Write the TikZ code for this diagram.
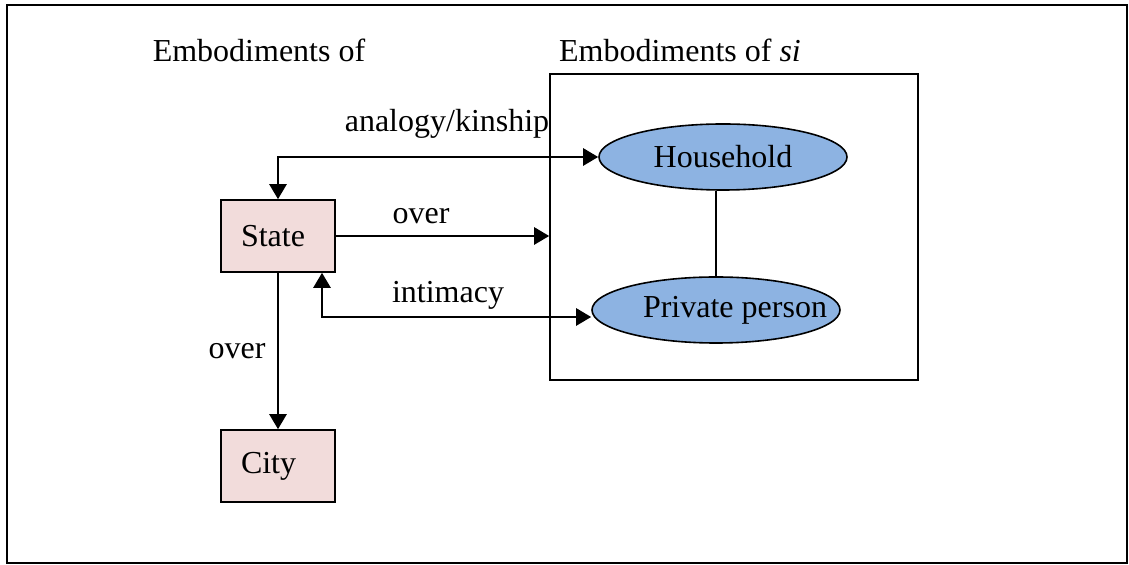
\documentclass[tikz,border=0pt]{standalone}
\usepackage{fontspec}
\setmainfont{Liberation Serif}
\usetikzlibrary{arrows.meta, calc, shapes.geometric}
\definecolor{statepink}{HTML}{F2DCDB}
\definecolor{siblue}{HTML}{8DB3E2}

\begin{document}
\begin{tikzpicture}[x=0.5pt, y=-0.5pt,
    every node/.style={font=\fontsize{16}{19}\selectfont},
    polis/.style={draw, line width=0.8pt, fill=statepink, minimum width=57pt,
        minimum height=36pt, text width=37pt, inner sep=10pt, align=left},
    oikos/.style={draw, ellipse, line width=0.8pt, fill=siblue, minimum width=124pt,
        minimum height=33pt, inner sep=0pt},
    link/.style={line width=1.3pt, -{Triangle[length=7.5pt, width=8.5pt]}},
    biglink/.style={line width=1.3pt, {Triangle[length=7.5pt, width=8.5pt]}-{Triangle[length=7.5pt, width=8.5pt]}}]

\useasboundingbox (0, 0) rectangle (1129, 565);

% outer frame
\draw[line width=0.8pt] (7, 5) rectangle (1127, 563);

% headings
\node (polisHead) at (259, 50) {Embodiments of};
\node (siHead) at (680, 50) {Embodiments of \textit{si}};

% si box
\node[draw, line width=0.8pt, minimum width=184pt, minimum height=153pt, inner sep=0pt]
    (siBox) at (734, 227) {};
\node[oikos] (household) at (723, 157) {Household};
\node[oikos, label={[xshift=9.5pt]center:Private person}] (person) at (716, 310) {};
\draw[line width=0.6pt] (person.north |- household.south) -- (person.north);

% state and city
\node[polis] (state) at (278, 236) {State};
\node[polis] (city) at (278, 466) {City};

% links
\coordinate (intimacyCorner) at (322, 317);
\draw[biglink] (state.north) |- (household.west);
\draw[link] (state.east) -- (state.east -| siBox.west);
\draw[biglink] (state.south -| intimacyCorner) -- (intimacyCorner)
    -- ([yshift=-3.5pt]person.west);
\draw[link] (state.south) -- (city.north);

% link labels
\node (kinLabel) at (447, 124) {analogy/kinship};
\node (overLabel) at (421, 216) {over};
\node (intimacyLabel) at (448, 295) {intimacy};
\node (downLabel) at (237, 351) {over};
\end{tikzpicture}
\end{document}
